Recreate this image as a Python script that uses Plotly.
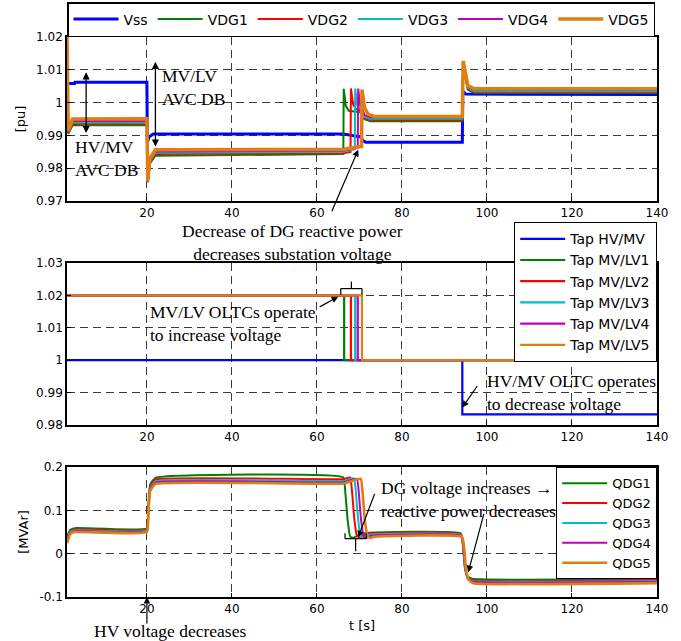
import plotly.graph_objects as go

# ---------------- data ----------------
# Top panel: voltages [pu]
vss_t = [1.2, 3.0, 3.1, 20.0, 20.1, 20.5, 21.5, 66.3, 70.4, 70.7, 71.5, 94.2, 94.3, 95.0, 140]
vss_v = [1.0058, 1.0058, 1.0062, 1.0062, 0.9878, 0.9895, 0.9904, 0.9904, 0.9895, 0.9885, 0.9879, 0.9879, 1.0035, 1.0026, 1.0025]

vdg1_t = [1.2, 1.5, 2.5, 20.0, 20.2, 20.7, 22.0, 66.2, 66.3, 66.8, 67.5, 70.5, 71.0, 72.5, 94.2, 94.4, 95.5, 97.0, 140]
vdg1_v = [1.020, 0.9905, 0.9931, 0.9932, 0.9757, 0.9815, 0.9838, 0.9843, 1.0042, 0.9990, 0.9975, 0.9970, 0.9950, 0.9943, 0.9943, 1.0105, 1.0040, 1.0029, 1.0029]

vdg2_t = [1.2, 1.5, 2.5, 20.0, 20.2, 20.7, 22.0, 66.3, 67.9, 68.0, 68.5, 69.2, 70.5, 71.0, 72.5, 94.2, 94.4, 95.5, 97.0, 140]
vdg2_v = [1.020, 0.9908, 0.9935, 0.9936, 0.9758, 0.9818, 0.9843, 0.9846, 0.9850, 1.0043, 0.9995, 0.9980, 0.9975, 0.9955, 0.9947, 0.9947, 1.0110, 1.0043, 1.0032, 1.0032]

vdg3_t = [1.2, 1.5, 2.5, 20.0, 20.2, 20.7, 22.0, 66.3, 68.9, 69.0, 69.5, 70.5, 71.0, 72.5, 94.2, 94.4, 95.5, 97.0, 140]
vdg3_v = [1.020, 0.9910, 0.9939, 0.9940, 0.9759, 0.9822, 0.9847, 0.9850, 0.9858, 1.0043, 0.9990, 0.9978, 0.9958, 0.9951, 0.9951, 1.0115, 1.0046, 1.0035, 1.0035]

vdg4_t = [1.2, 1.5, 2.5, 20.0, 20.2, 20.7, 22.0, 66.3, 69.6, 69.7, 70.2, 70.6, 71.2, 72.5, 94.2, 94.4, 95.5, 97.0, 140]
vdg4_v = [1.020, 0.9912, 0.9944, 0.9945, 0.9760, 0.9826, 0.9851, 0.9854, 0.9862, 1.0043, 0.9990, 0.9982, 0.9962, 0.9955, 0.9955, 1.0120, 1.0049, 1.0039, 1.0039]

vdg5_t = [1.2, 1.5, 2.5, 20.0, 20.2, 20.7, 22.0, 66.3, 70.5, 70.6, 71.2, 72.0, 73.5, 94.2, 94.4, 95.5, 97.0, 140]
vdg5_v = [1.020, 0.9915, 0.9950, 0.9951, 0.9761, 0.9830, 0.9856, 0.9858, 0.9866, 1.0040, 0.9985, 0.9965, 0.9958, 0.9958, 1.0127, 1.0052, 1.0042, 1.0042]

# Middle panel: tap positions [pu]
tap_hv_t = [1.2, 94.2, 94.2, 140]
tap_hv_v = [1.0, 1.0, 0.9833, 0.9833]
tap_lv1_t = [1.2, 66.4, 66.4, 140]
tap_lv1_v = [1.02, 1.02, 1.0, 1.0]
tap_lv2_t = [1.2, 68.0, 68.0, 140]
tap_lv2_v = [1.02, 1.02, 1.0, 1.0]
tap_lv3_t = [1.2, 69.0, 69.0, 140]
tap_lv3_v = [1.02, 1.02, 1.0, 1.0]
tap_lv4_t = [1.2, 69.6, 69.6, 140]
tap_lv4_v = [1.02, 1.02, 1.0, 1.0]
tap_lv5_t = [1.2, 70.6, 70.6, 140]
tap_lv5_v = [1.02, 1.02, 1.0, 1.0]

# Bottom panel: DG reactive power [MVAr]
qdg1_t = [1.2, 2.0, 3.0, 20.0, 20.3, 20.8, 22.0, 66.2, 66.6, 67.2, 67.8, 68.5, 71.0, 93.8, 94.3, 94.8, 95.4, 96.5, 140]
qdg1_v = [0.040, 0.055, 0.059, 0.059, 0.105, 0.160, 0.175, 0.176, 0.150, 0.080, 0.040, 0.037, 0.047, 0.047, 0.025, -0.030, -0.052, -0.058, -0.058]

qdg2_t = [1.2, 2.0, 3.0, 20.0, 20.3, 20.8, 22.0, 66.3, 67.8, 68.2, 68.8, 69.4, 70.0, 71.5, 93.8, 94.3, 94.8, 95.4, 96.5, 140]
qdg2_v = [0.036, 0.052, 0.056, 0.056, 0.100, 0.155, 0.171, 0.172, 0.176, 0.150, 0.080, 0.041, 0.038, 0.045, 0.045, 0.023, -0.032, -0.055, -0.061, -0.061]

qdg3_t = [1.2, 2.0, 3.0, 20.0, 20.3, 20.8, 22.0, 66.3, 68.7, 69.1, 69.7, 70.3, 70.9, 72.0, 93.9, 94.4, 94.9, 95.5, 96.6, 140]
qdg3_v = [0.032, 0.050, 0.054, 0.054, 0.096, 0.151, 0.167, 0.168, 0.174, 0.148, 0.078, 0.040, 0.037, 0.043, 0.043, 0.021, -0.034, -0.057, -0.063, -0.063]

qdg4_t = [1.2, 2.0, 3.0, 20.0, 20.3, 20.8, 22.0, 66.3, 69.4, 69.8, 70.4, 71.0, 71.6, 72.5, 94.0, 94.5, 95.0, 95.6, 96.7, 140]
qdg4_v = [0.028, 0.048, 0.052, 0.052, 0.092, 0.148, 0.164, 0.165, 0.173, 0.146, 0.076, 0.039, 0.036, 0.041, 0.041, 0.019, -0.036, -0.059, -0.065, -0.065]

qdg5_t = [1.2, 2.0, 3.0, 20.0, 20.3, 20.8, 22.0, 66.3, 70.3, 70.7, 71.3, 71.9, 72.5, 73.5, 94.1, 94.6, 95.1, 95.7, 96.8, 140]
qdg5_v = [0.024, 0.046, 0.050, 0.050, 0.088, 0.145, 0.161, 0.162, 0.173, 0.145, 0.075, 0.040, 0.036, 0.039, 0.039, 0.017, -0.038, -0.061, -0.068, -0.068]

x_ticks = [20, 40, 60, 80, 100, 120, 140]
x_labels = ["20", "40", "60", "80", "100", "120", "140"]
v_ticks = [0.97, 0.98, 0.99, 1.0, 1.01, 1.02]
v_labels = ["0.97", "0.98", "0.99", "1", "1.01", "1.02"]
tap_ticks = [0.98, 0.99, 1.0, 1.01, 1.02, 1.03]
tap_labels = ["0.98", "0.99", "1", "1.01", "1.02", "1.03"]
q_ticks = [-0.1, 0.0, 0.1, 0.2]
q_labels = ["-0.1", "0", "0.1", "0.2"]

# ---------------- style ----------------
BLUE = "#0000FF"
GREEN = "#008000"
RED = "#FF0000"
CYAN = "#00BFBF"
MAGENTA = "#BF00BF"
ORANGE = "#E07F10"
SANS = "DejaVu Sans"
SERIF = "Liberation Serif"

fig = go.Figure()

top = [("Vss", vss_t, vss_v, BLUE, 3),
       ("VDG1", vdg1_t, vdg1_v, GREEN, 2),
       ("VDG2", vdg2_t, vdg2_v, RED, 2),
       ("VDG3", vdg3_t, vdg3_v, CYAN, 2),
       ("VDG4", vdg4_t, vdg4_v, MAGENTA, 2),
       ("VDG5", vdg5_t, vdg5_v, ORANGE, 3.5)]
for name, t, v, c, w in top:
    fig.add_trace(go.Scatter(x=t, y=v, name=name, mode="lines", line=dict(color=c, width=w),
                             xaxis="x", yaxis="y", legend="legend"))

mid = [("Tap HV/MV", tap_hv_t, tap_hv_v, BLUE),
       ("Tap MV/LV1", tap_lv1_t, tap_lv1_v, GREEN),
       ("Tap MV/LV2", tap_lv2_t, tap_lv2_v, RED),
       ("Tap MV/LV3", tap_lv3_t, tap_lv3_v, CYAN),
       ("Tap MV/LV4", tap_lv4_t, tap_lv4_v, MAGENTA),
       ("Tap MV/LV5", tap_lv5_t, tap_lv5_v, ORANGE)]
for name, t, v, c in mid:
    fig.add_trace(go.Scatter(x=t, y=v, name=name, mode="lines", line=dict(color=c, width=2.2),
                             xaxis="x2", yaxis="y2", legend="legend2"))

bot = [("QDG1", qdg1_t, qdg1_v, GREEN, 2),
       ("QDG2", qdg2_t, qdg2_v, RED, 2),
       ("QDG3", qdg3_t, qdg3_v, CYAN, 2),
       ("QDG4", qdg4_t, qdg4_v, MAGENTA, 2),
       ("QDG5", qdg5_t, qdg5_v, ORANGE, 2.6)]
for name, t, v, c, w in bot:
    fig.add_trace(go.Scatter(x=t, y=v, name=name, mode="lines", line=dict(color=c, width=w, shape="spline", smoothing=0.4),
                             xaxis="x3", yaxis="y3", legend="legend3"))

def xax(anchor, title=None):
    d = dict(anchor=anchor, domain=[0, 1], range=[1.2, 140], tickvals=x_ticks, ticktext=x_labels,
             showgrid=True, gridcolor="#3a3a3a", griddash="8px,5px", gridwidth=1,
             showline=True, linecolor="black", linewidth=1.6, mirror=True,
             ticks="inside", ticklen=4, tickcolor="black", zeroline=False,
             tickfont=dict(family=SANS, size=12, color="black"))
    if title:
        d["title"] = dict(text=title, font=dict(family=SANS, size=13, color="black"), standoff=6)
    return d

def yax(anchor, dom, rng, tv, tt, title=None):
    d = dict(anchor=anchor, domain=dom, range=rng, tickvals=tv, ticktext=tt,
             showgrid=True, gridcolor="#3a3a3a", griddash="8px,5px", gridwidth=1,
             showline=True, linecolor="black", linewidth=1.6, mirror=True,
             ticks="inside", ticklen=4, tickcolor="black", zeroline=False,
             tickfont=dict(family=SANS, size=12, color="black"))
    if title:
        d["title"] = dict(text=title, font=dict(family=SANS, size=13, color="black"), standoff=8)
    return d

ann_font = dict(family=SERIF, size=17.5, color="black")
annotations = [
    # top panel
    dict(xref="x", yref="y", x=5.7, y=0.9907, axref="x", ayref="y", ax=5.7, ay=1.0097, text="",
         showarrow=True, arrowhead=2, arrowside="end+start", arrowsize=1.1, arrowwidth=1.3, arrowcolor="black"),
    dict(xref="x", yref="y", x=22.0, y=0.9866, axref="x", ayref="y", ax=22.0, ay=1.0129, text="",
         showarrow=True, arrowhead=2, arrowside="end+start", arrowsize=1.1, arrowwidth=1.3, arrowcolor="black"),
    dict(xref="x", yref="y", x=23.1, y=1.0045, text="MV/LV<br>AVC DB", showarrow=False,
         xanchor="left", yanchor="middle", align="left", font=ann_font),
    dict(xref="x", yref="y", x=2.6, y=0.9830, text="HV/MV<br>AVC DB", showarrow=False,
         xanchor="left", yanchor="middle", align="left", font=ann_font),
    dict(xref="x", yref="paper", x=54.3, y=0.6339, text="Decrease of DG reactive power<br>decreases substation voltage",
         showarrow=False, xanchor="center", yanchor="middle", align="center", font=ann_font),
    dict(xref="x", yref="y", x=69.7, y=0.9856, axref="pixel", ayref="pixel", ax=-27, ay=63, text="",
         showarrow=True, arrowhead=2, arrowsize=1.1, arrowwidth=1.2, arrowcolor="black"),
    # middle panel
    dict(xref="x2", yref="y2", x=20.3, y=1.0112, text="MV/LV OLTCs operate<br>to increase voltage", showarrow=False,
         xanchor="left", yanchor="middle", align="left", font=ann_font),
    dict(xref="x2", yref="y2", x=65.0, y=1.0196, ax=-20, ay=11, text="",
         showarrow=True, arrowhead=2, arrowsize=1.1, arrowwidth=1.2, arrowcolor="black"),
    dict(xref="x2", yref="y2", x=99.6, y=0.99005, text="HV/MV OLTC operates<br>to decrease voltage", showarrow=False,
         xanchor="left", yanchor="middle", align="left", font=ann_font),
    dict(xref="x2", yref="y2", x=94.2, y=0.9854, ax=16, ay=-23, text="",
         showarrow=True, arrowhead=2, arrowsize=1.1, arrowwidth=1.2, arrowcolor="black"),
    # bottom panel
    dict(xref="x3", yref="paper", x=25.5, y=-0.0607, text="HV voltage decreases", showarrow=False,
         xanchor="center", yanchor="middle", font=ann_font),
    dict(xref="x3", yref="y3", x=20.0, y=-0.1, ax=0, ay=28, text="",
         showarrow=True, arrowhead=2, arrowsize=1.1, arrowwidth=1.2, arrowcolor="black"),
    dict(xref="x3", yref="y3", x=74.7, y=0.1243, text="DG voltage increases \u2192<br>reactive power decreases",
         showarrow=False, xanchor="left", yanchor="middle", align="left", font=ann_font),
    dict(xref="x3", yref="y3", x=69.7, y=0.0377, ax=17, ay=-45, text="",
         showarrow=True, arrowhead=2, arrowsize=1.1, arrowwidth=1.2, arrowcolor="black"),
    dict(xref="x3", yref="y3", x=95.6, y=-0.043, ax=16, ay=-60, text="",
         showarrow=True, arrowhead=2, arrowsize=1.1, arrowwidth=1.2, arrowcolor="black"),
]

line_k = dict(color="black", width=1.2)
shapes = [
    # middle brace
    dict(type="line", xref="x2", yref="y2", x0=65.6, x1=70.6, y0=1.0221, y1=1.0221, line=line_k),
    dict(type="line", xref="x2", yref="y2", x0=65.6, x1=65.6, y0=1.0221, y1=1.0202, line=line_k),
    dict(type="line", xref="x2", yref="y2", x0=70.6, x1=70.6, y0=1.0221, y1=1.0202, line=line_k),
    dict(type="line", xref="x2", yref="y2", x0=68.1, x1=68.1, y0=1.0221, y1=1.0243, line=line_k),
    # bottom brace
    dict(type="line", xref="x3", yref="y3", x0=66.6, x1=71.6, y0=0.0347, y1=0.0347, line=line_k),
    dict(type="line", xref="x3", yref="y3", x0=66.6, x1=66.6, y0=0.0347, y1=0.047, line=line_k),
    dict(type="line", xref="x3", yref="y3", x0=71.6, x1=71.6, y0=0.0347, y1=0.047, line=line_k),
    dict(type="line", xref="x3", yref="y3", x0=69.1, x1=69.1, y0=0.0347, y1=0.0055, line=line_k),
]

fig.update_layout(
    width=681, height=641,
    margin=dict(l=67, r=24, t=37, b=44, autoexpand=False),
    paper_bgcolor="white", plot_bgcolor="white",
    xaxis=xax("y"),
    yaxis=yax("x", [0.7071, 1.0], [0.97, 1.02], v_ticks, v_labels, "[pu]"),
    xaxis2=xax("y2"),
    yaxis2=yax("x2", [0.3071, 0.5964], [0.98, 1.03], tap_ticks, tap_labels),
    xaxis3=xax("y3", "t [s]"),
    yaxis3=yax("x3", [0.0, 0.2321], [-0.1, 0.2], q_ticks, q_labels, "[MVAr]"),
    legend=dict(orientation="h", x=0, xanchor="left", y=1.0, yanchor="bottom",
                bordercolor="black", borderwidth=1.5, bgcolor="white",
                font=dict(family=SANS, size=14, color="black"), itemwidth=45),
    legend2=dict(x=1.0, xanchor="right", y=0.6696, yanchor="top",
                 bordercolor="black", borderwidth=1.2, bgcolor="white",
                 font=dict(family=SANS, size=14, color="black"), itemwidth=45),
    legend3=dict(x=1.0, xanchor="right", y=0.2321, yanchor="top",
                 bordercolor="black", borderwidth=1.2, bgcolor="white",
                 font=dict(family=SANS, size=13, color="black"), itemwidth=45),
    annotations=annotations,
    shapes=shapes,
    showlegend=True,
)

fig.write_html("out.html")
